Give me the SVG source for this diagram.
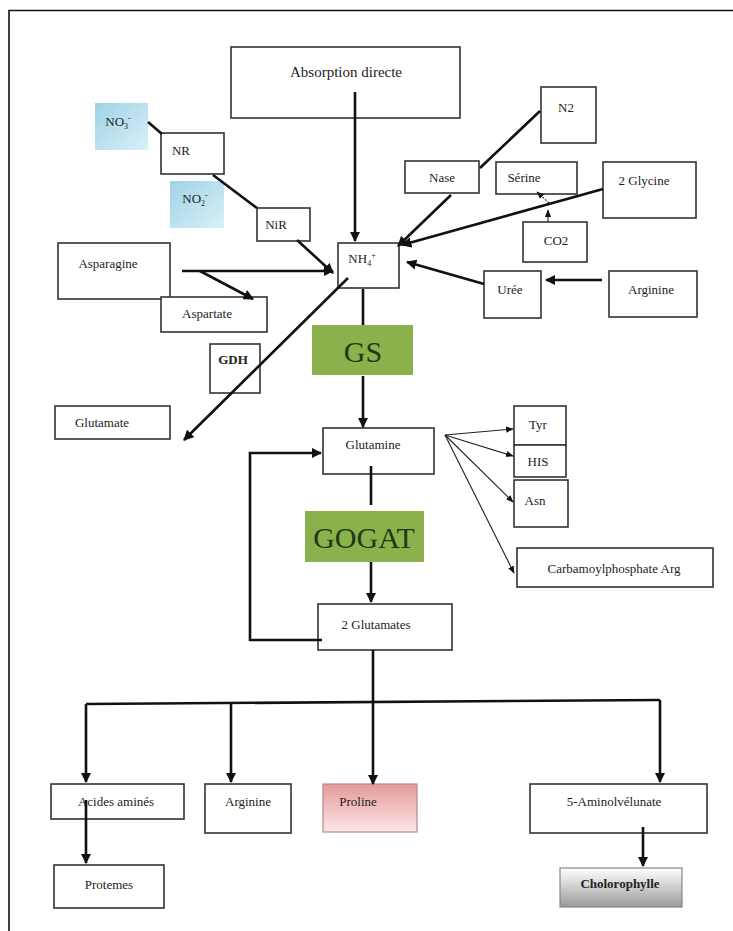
<svg xmlns="http://www.w3.org/2000/svg" width="733" height="931" viewBox="0 0 733 931">
<style>
.b{fill:#fff;stroke:#333;stroke-width:1.6}
.t{font-family:"Liberation Serif","Times New Roman",serif;font-size:13px;fill:#222;text-anchor:middle}
.big{font-family:"Liberation Serif","Times New Roman",serif;font-size:30px;fill:#1e3a12;text-anchor:middle}
.c{fill:none;stroke:#111;stroke-width:2.6}
.th{fill:none;stroke:#222;stroke-width:1.1}
</style>
<defs>
<marker id="a" viewBox="0 0 10 10" refX="9" refY="5" markerWidth="4" markerHeight="4" orient="auto" markerUnits="strokeWidth"><path d="M0,0L10,5L0,10z" fill="#111"/></marker>
<marker id="as" viewBox="0 0 10 10" refX="9" refY="5" markerWidth="7" markerHeight="7" orient="auto" markerUnits="strokeWidth"><path d="M0,1L10,5L0,9z" fill="#111"/></marker>
<linearGradient id="blue" x1="0" y1="0" x2="1" y2="1"><stop offset="0" stop-color="#9fd3e6"/><stop offset="1" stop-color="#d9f0f8"/></linearGradient>
<linearGradient id="pink" x1="0" y1="0" x2="0" y2="1"><stop offset="0" stop-color="#e59a9a"/><stop offset="1" stop-color="#fbe6e6"/></linearGradient>
<linearGradient id="gray" x1="0" y1="0" x2="0" y2="1"><stop offset="0" stop-color="#ffffff"/><stop offset="1" stop-color="#9a9a9a"/></linearGradient>
</defs>
<rect width="733" height="931" fill="#fff"/>
<path d="M9,931V10.5H733" fill="none" stroke="#111" stroke-width="1.6"/>

<g id="absorption"><rect class="b" x="231" y="47" width="229" height="71"/><text class="t" x="346" y="77" style="font-size:15px">Absorption directe</text></g>
<g id="no3"><rect x="95" y="103" width="53" height="47" fill="url(#blue)"/><text class="t" x="118" y="126">NO<tspan font-size="8" dy="3">3</tspan><tspan font-size="8" dy="-8">-</tspan></text></g>
<g id="nr"><rect class="b" x="161" y="133" width="63" height="41"/><text class="t" x="181" y="155">NR</text></g>
<g id="no2"><rect x="170" y="181" width="54" height="47" fill="url(#blue)"/><text class="t" x="195" y="203">NO<tspan font-size="8" dy="3">2</tspan><tspan font-size="8" dy="-8">-</tspan></text></g>
<g id="nir"><rect class="b" x="257" y="208" width="53" height="33"/><text class="t" x="276" y="229">NiR</text></g>
<g id="n2"><rect class="b" x="541" y="87" width="55" height="56"/><text class="t" x="566" y="112">N2</text></g>
<g id="nase"><rect class="b" x="405" y="161" width="74" height="32"/><text class="t" x="442" y="182">Nase</text></g>
<g id="serine"><rect class="b" x="496" y="162" width="81" height="32"/><text class="t" x="524" y="182">Sérine</text></g>
<g id="glycine"><rect class="b" x="603" y="162" width="93" height="56"/><text class="t" x="644" y="185">2 Glycine</text></g>
<g id="co2"><rect class="b" x="523" y="222" width="64" height="40"/><text class="t" x="556" y="245">CO2</text></g>
<g id="nh4"><rect class="b" x="338" y="243" width="61" height="45"/><text class="t" x="362" y="263">NH<tspan font-size="8" dy="3">4</tspan><tspan font-size="8" dy="-8">+</tspan></text></g>
<g id="asparagine"><rect class="b" x="58" y="243" width="112" height="56"/><text class="t" x="108" y="268">Asparagine</text></g>
<g id="aspartate"><rect class="b" x="161" y="297" width="106" height="35"/><text class="t" x="207" y="318">Aspartate</text></g>
<g id="uree"><rect class="b" x="484" y="271" width="57" height="47"/><text class="t" x="510" y="294">Urée</text></g>
<g id="arginine-top"><rect class="b" x="609" y="271" width="88" height="46"/><text class="t" x="651" y="294">Arginine</text></g>
<g id="gs"><rect x="312" y="325" width="101" height="50" fill="#8bb14c"/><text class="big" x="363" y="362">GS</text></g>
<g id="gdh"><rect class="b" x="210" y="344" width="50" height="49"/><text class="t" x="233" y="364" font-weight="bold">GDH</text></g>
<g id="glutamate"><rect class="b" x="55" y="406" width="115" height="33"/><text class="t" x="102" y="427">Glutamate</text></g>
<g id="glutamine"><rect class="b" x="323" y="428" width="111" height="46"/><text class="t" x="373" y="449">Glutamine</text></g>
<g id="tyr"><rect class="b" x="514" y="406" width="52" height="39"/><text class="t" x="538" y="429">Tyr</text></g>
<g id="his"><rect class="b" x="514" y="445" width="52" height="32"/><text class="t" x="538" y="466">HIS</text></g>
<g id="asn"><rect class="b" x="514" y="480" width="54" height="47"/><text class="t" x="535" y="505">Asn</text></g>
<g id="carbamoyl"><rect class="b" x="517" y="548" width="196" height="39"/><text class="t" x="614" y="573">Carbamoylphosphate Arg</text></g>
<g id="gogat"><rect x="305" y="511" width="119" height="51" fill="#8bb14c"/><text class="big" x="364" y="548">GOGAT</text></g>
<g id="glutamates"><rect class="b" x="318" y="604" width="134" height="46"/><text class="t" x="376" y="629">2 Glutamates</text></g>
<g id="acides"><rect class="b" x="51" y="784" width="133" height="35"/><text class="t" x="116" y="806">Acides aminés</text></g>
<g id="arginine"><rect class="b" x="205" y="784" width="86" height="49"/><text class="t" x="248" y="806">Arginine</text></g>
<g id="proline"><rect x="323" y="784" width="94" height="48" fill="url(#pink)" stroke="#b88" stroke-width="1.2"/><text class="t" x="358" y="806">Proline</text></g>
<g id="amino"><rect class="b" x="530" y="784" width="177" height="49"/><text class="t" x="614" y="806">5-Aminolvélunate</text></g>
<g id="protemes"><rect class="b" x="54" y="865" width="110" height="43"/><text class="t" x="109" y="889">Protemes</text></g>
<g id="choloro"><rect x="560" y="868" width="122" height="39" fill="url(#gray)" stroke="#888" stroke-width="1.2"/><text class="t" x="620" y="888" font-weight="bold">Cholorophylle</text></g>

<g id="connectors">
<path class="c" d="M355,92V241" marker-end="url(#a)"/>
<path class="c" d="M148,122L162,134"/>
<path class="c" d="M213,175L257,208"/>
<path class="c" d="M297,240L333,273" marker-end="url(#a)"/>
<path class="c" d="M540,111L480,168"/>
<path class="c" d="M451,195L398,246" marker-end="url(#a)"/>
<path class="c" d="M603,189L402,245" marker-end="url(#a)"/>
<path class="th" d="M548,222V210" marker-end="url(#as)"/>
<path class="th" d="M549,203L537,192" marker-end="url(#as)" stroke-dasharray="2,1.5"/>
<path class="c" d="M602,280H546" marker-end="url(#a)"/>
<path class="c" d="M484,284L407,262" marker-end="url(#a)"/>
<path class="c" d="M182,271H333" marker-end="url(#a)"/>
<path class="c" d="M200,271L253,299" marker-end="url(#a)"/>
<path class="c" d="M348,278L184,440" marker-end="url(#a)"/>
<path class="c" d="M363,289V325"/>
<path class="c" d="M363,376V427" marker-end="url(#a)"/>
<path class="th" d="M445,435L513,429" marker-end="url(#as)"/>
<path class="th" d="M445,435L513,456" marker-end="url(#as)"/>
<path class="th" d="M445,435L513,502" marker-end="url(#as)"/>
<path class="th" d="M445,435L514,573" marker-end="url(#as)"/>
<path class="c" d="M371,466V505"/>
<path class="c" d="M371,562V602" marker-end="url(#a)"/>
<path class="c" d="M322,640H250V453H321" marker-end="url(#a)"/>
<path class="c" d="M373,650V784" marker-end="url(#a)"/>
<path class="c" d="M86,704L660,700"/>
<path class="c" d="M86,704V782" marker-end="url(#a)"/>
<path class="c" d="M231,703V782" marker-end="url(#a)"/>
<path class="c" d="M660,700V782" marker-end="url(#a)"/>
<path class="c" d="M86,800V863" marker-end="url(#a)"/>
<path class="c" d="M643,827V866" marker-end="url(#a)"/>
</g>
</svg>
